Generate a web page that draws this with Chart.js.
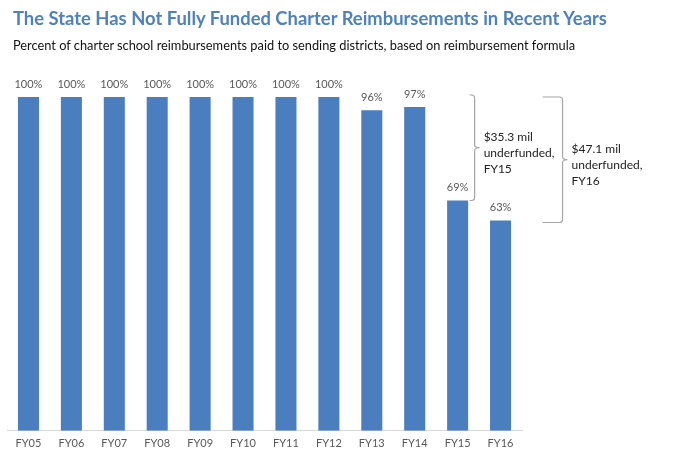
<!DOCTYPE html>
<html>
<head>
<meta charset="utf-8">
<script src="https://cdn.jsdelivr.net/npm/chart.js@4"></script>
<style>
  body { margin: 0; background: #fff; }
  #wrap { position: relative; width: 673px; height: 456px; }
  #title { position: absolute; left: 13px; top: 7px; font: bold 18.4px Lato, sans-serif; color: #4f81bd; white-space: nowrap; }
  #sub { position: absolute; left: 13px; top: 37px; font: 12.8px Lato, sans-serif; color: #111; white-space: nowrap; }
  canvas { position: absolute; left: 0; top: 0; }
</style>
</head>
<body>
<div id="wrap">
  <canvas id="chart" width="673" height="456"></canvas>
  <div id="title">The State Has Not Fully Funded Charter Reimbursements in Recent Years</div>
  <div id="sub">Percent of charter school reimbursements paid to sending districts, based on reimbursement formula</div>
</div>
<script>
// data
const years = ['FY05','FY06','FY07','FY08','FY09','FY10','FY11','FY12','FY13','FY14','FY15','FY16'];
const percentPaid = [100,100,100,100,100,100,100,100,96,97,69,63];
const note15 = ['$35.3 mil', 'underfunded,', 'FY15'];
const note16 = ['$47.1 mil', 'underfunded,', 'FY16'];

const valueLabels = {
  id: 'valueLabels',
  afterDatasetsDraw(chart) {
    const ctx = chart.ctx;
    const meta = chart.getDatasetMeta(0);
    ctx.save();
    ctx.font = '11px Lato, sans-serif';
    ctx.fillStyle = '#595959';
    ctx.textAlign = 'center';
    ctx.textBaseline = 'middle';
    meta.data.forEach((bar, i) => {
      ctx.fillText(percentPaid[i] + '%', bar.x, bar.y - 13);
    });
    ctx.restore();
  }
};

// draws a "}" style brace with a note to its right
function brace(ctx, x, top, bottom, arm, lines) {
  const mid = (top + bottom) / 2;
  ctx.beginPath();
  ctx.moveTo(x - arm, top);
  ctx.lineTo(x - 3, top);
  ctx.quadraticCurveTo(x, top, x, top + 3);
  ctx.lineTo(x, mid - 3);
  ctx.quadraticCurveTo(x, mid, x + 5, mid);
  ctx.quadraticCurveTo(x, mid, x, mid + 3);
  ctx.lineTo(x, bottom - 3);
  ctx.quadraticCurveTo(x, bottom, x - 3, bottom);
  ctx.lineTo(x - arm, bottom);
  ctx.stroke();
  ctx.fillStyle = '#222';
  ctx.font = '12px Lato, sans-serif';
  ctx.textAlign = 'left';
  ctx.textBaseline = 'middle';
  lines.forEach((t, i) => ctx.fillText(t, x + 9, mid - 11 + i * 16));
}

const braces = {
  id: 'braces',
  afterDraw(chart) {
    const ctx = chart.ctx;
    const xs = chart.scales.x, ys = chart.scales.y;
    ctx.save();
    ctx.strokeStyle = '#a6a6a6';
    ctx.lineWidth = 1.2;
    brace(ctx, xs.getPixelForValue(10) + 17, ys.getPixelForValue(100) - 2, ys.getPixelForValue(69), 5, note15);
    brace(ctx, xs.getPixelForValue(11) + 62, ys.getPixelForValue(100), ys.getPixelForValue(63) + 2, 20, note16);
    ctx.restore();
  }
};

new Chart(document.getElementById('chart'), {
  type: 'bar',
  data: {
    labels: years,
    datasets: [{
      data: percentPaid,
      backgroundColor: '#4a7ebf',
      barPercentage: 0.49,
      categoryPercentage: 1
    }]
  },
  options: {
    responsive: false,
    animation: false,
    layout: { padding: { top: 97, left: 7, right: 151, bottom: 0 } },
    plugins: { legend: { display: false }, tooltip: { enabled: false } },
    scales: {
      y: { display: false, min: 0, max: 100 },
      x: {
        grid: { display: false, drawTicks: false },
        border: { color: '#d9d9d9' },
        ticks: { color: '#595959', font: { family: 'Lato', size: 11 }, padding: 6 }
      }
    }
  },
  plugins: [valueLabels, braces]
});
</script>
</body>
</html>
